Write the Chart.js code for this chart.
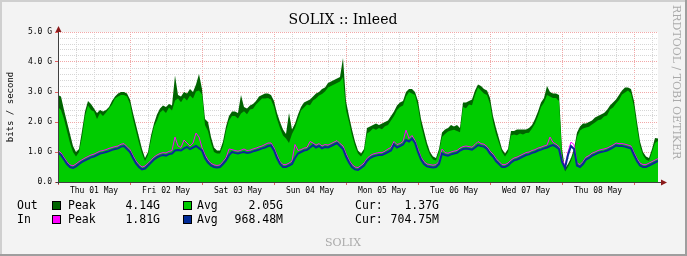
<!DOCTYPE html>
<html>
<head>
<meta charset="utf-8">
<script src="https://cdn.jsdelivr.net/npm/chart.js"></script>
<style>
  html, body { margin: 0; padding: 0; background: #f3f3f3; }
  canvas { display: block; }
</style>
</head>
<body>
<canvas id="solixChart" width="687" height="256"></canvas>
<script>
// hourly samples from Thu 01 May 00:00, values in G bit/s
const outPeak = [
  2.9, 2.85, 2.4, 2.0, 1.6, 1.2, 1.0, 1.1, 1.7, 2.35,
  2.7, 2.6, 2.45, 2.3, 2.4, 2.35, 2.4, 2.5, 2.7, 2.85,
  2.95, 3.0, 3.0, 2.95, 2.75, 2.3, 1.9, 1.5, 1.1, 0.8,
  1.0, 1.55, 1.95, 2.25, 2.45, 2.55, 2.5, 2.6, 2.55, 3.55,
  2.9, 2.85, 3.0, 2.95, 3.1, 3.0, 3.25, 3.6, 3.1, 2.1,
  2.0, 1.5, 1.15, 1.05, 1.05, 1.35, 1.85, 2.2, 2.35, 2.35,
  2.3, 2.9, 2.5, 2.45, 2.55, 2.6, 2.7, 2.85, 2.9, 2.95,
  2.95, 2.9, 2.7, 2.3, 2.0, 1.75, 1.6, 2.3, 1.75, 1.95,
  2.25, 2.5, 2.65, 2.7, 2.75, 2.85, 2.95, 3.0, 3.1, 3.15,
  3.3, 3.35, 3.4, 3.45, 3.5, 4.13, 2.7, 2.2, 1.75, 1.35,
  1.05, 0.95, 1.1, 1.8, 1.85, 1.9, 1.95, 1.9, 1.95, 2.0,
  2.05, 2.2, 2.35, 2.55, 2.65, 2.7, 3.0, 3.1, 3.1, 3.0,
  2.7, 2.1, 1.7, 1.3, 1.0, 0.85, 0.8, 1.1, 1.65, 1.75,
  1.8, 1.9, 1.85, 1.9, 1.8, 2.65, 2.65, 2.7, 2.75, 3.05,
  3.25, 3.2, 3.1, 3.05, 2.8, 2.2, 1.8, 1.45, 1.1, 0.95,
  1.1, 1.7, 1.7, 1.75, 1.75, 1.75, 1.75, 1.8, 1.9, 2.1,
  2.35, 2.65, 2.8, 3.2, 3.0, 2.95, 2.95, 2.9, 1.1, 0.45,
  0.6, 0.8, 1.1, 1.65, 1.85, 1.95, 1.95, 2.0, 2.05, 2.15,
  2.2, 2.25, 2.3, 2.4, 2.55, 2.65, 2.75, 2.9, 3.05, 3.15,
  3.15, 3.1, 2.7, 2.0, 1.35, 1.0, 0.85, 0.8, 1.1, 1.47,
  1.45
];
const outAvg = [
  2.5, 2.4, 2.1, 1.7, 1.3, 1.0, 0.85, 1.0, 1.5, 2.2,
  2.55, 2.4, 2.35, 2.1, 2.3, 2.2, 2.32, 2.45, 2.58, 2.78,
  2.85, 2.9, 2.9, 2.85, 2.6, 2.1, 1.7, 1.3, 0.95, 0.7,
  0.9, 1.4, 1.85, 2.05, 2.32, 2.4, 2.3, 2.48, 2.38, 2.72,
  2.78, 2.66, 2.82, 2.72, 2.88, 2.78, 3.02, 3.05, 2.92, 1.9,
  1.7, 1.3, 1.0, 0.95, 0.95, 1.2, 1.7, 2.05, 2.2, 2.2,
  2.12, 2.28, 2.36, 2.26, 2.42, 2.44, 2.58, 2.68, 2.78, 2.78,
  2.8, 2.75, 2.5, 2.1, 1.8, 1.55, 1.45, 1.3, 1.6, 1.8,
  2.1, 2.38, 2.48, 2.58, 2.56, 2.72, 2.78, 2.88, 2.93, 3.02,
  3.15, 3.2, 3.25, 3.3, 3.35, 3.5, 2.4, 2.0, 1.55, 1.2,
  0.95, 0.85, 1.0, 1.62, 1.68, 1.78, 1.74, 1.8, 1.76, 1.86,
  1.9, 2.05, 2.2, 2.4, 2.5, 2.55, 2.85, 3.0, 2.95, 2.9,
  2.5, 1.9, 1.5, 1.15, 0.9, 0.75, 0.72, 1.0, 1.5, 1.6,
  1.68, 1.72, 1.74, 1.7, 1.66, 2.5, 2.46, 2.58, 2.56, 2.9,
  3.15, 3.05, 2.95, 2.9, 2.6, 2.0, 1.6, 1.3, 1.0, 0.85,
  1.0, 1.55, 1.58, 1.56, 1.62, 1.58, 1.63, 1.64, 1.78, 1.95,
  2.2, 2.5, 2.65, 2.9, 2.85, 2.8, 2.8, 2.7, 0.9, 0.35,
  0.5, 0.7, 1.0, 1.5, 1.72, 1.78, 1.82, 1.84, 1.92, 1.98,
  2.06, 2.08, 2.18, 2.22, 2.42, 2.48, 2.62, 2.73, 2.92, 2.98,
  3.05, 2.95, 2.5, 1.8, 1.2, 0.9, 0.75, 0.7, 1.0, 1.3,
  1.37
];
const inPeak = [
  1.05, 0.97, 0.82, 0.67, 0.57, 0.54, 0.6, 0.68, 0.74, 0.8,
  0.85, 0.9, 0.93, 0.98, 1.03, 1.05, 1.08, 1.12, 1.15, 1.18,
  1.2, 1.26, 1.28, 1.18, 1.08, 0.88, 0.7, 0.58, 0.5, 0.53,
  0.62, 0.72, 0.83, 0.9, 0.95, 0.98, 0.97, 1.02, 1.05, 1.5,
  1.2, 1.15, 1.4, 1.3, 1.2, 1.3, 1.63, 1.5, 1.15, 0.9,
  0.73, 0.62, 0.57, 0.55, 0.57, 0.68, 0.8, 1.1, 1.08, 1.05,
  1.03, 1.06, 1.1, 1.05, 1.06, 1.1, 1.13, 1.17, 1.2, 1.25,
  1.3, 1.3, 1.14, 0.9, 0.68, 0.58, 0.58, 0.63, 0.7, 1.25,
  1.05, 1.08, 1.13, 1.15, 1.35, 1.3, 1.23, 1.28, 1.2, 1.25,
  1.23, 1.28, 1.33, 1.38, 1.28, 1.2, 0.95, 0.73, 0.58, 0.5,
  0.48, 0.55, 0.63, 0.78, 0.88, 0.93, 0.96, 0.98, 0.98, 1.03,
  1.1, 1.15, 1.35, 1.25, 1.28, 1.35, 1.73, 1.45, 1.55, 1.38,
  1.1, 0.83, 0.68, 0.6, 0.58, 0.56, 0.58, 0.68, 1.1, 0.98,
  0.96, 1.0, 1.03, 1.05, 1.13, 1.18, 1.2, 1.18, 1.16, 1.25,
  1.35, 1.28, 1.26, 1.18, 1.03, 0.93, 0.78, 0.68, 0.58, 0.58,
  0.63, 0.73, 0.8, 0.83, 0.88, 0.93, 0.98, 1.0, 1.05, 1.08,
  1.13, 1.16, 1.2, 1.23, 1.5, 1.32, 1.26, 1.18, 0.75, 0.55,
  1.0, 1.33, 1.25, 0.63, 0.58, 0.68, 0.83, 0.88, 0.96, 1.0,
  1.05, 1.08, 1.1, 1.13, 1.18, 1.23, 1.3, 1.28, 1.28, 1.26,
  1.23, 1.2, 0.98, 0.78, 0.63, 0.58, 0.58, 0.63, 0.68, 0.73,
  0.78
];
const inAvg = [
  0.97, 0.9, 0.75, 0.6, 0.5, 0.47, 0.52, 0.6, 0.67, 0.72,
  0.77, 0.82, 0.85, 0.9, 0.95, 0.97, 1.0, 1.03, 1.07, 1.1,
  1.12, 1.18, 1.2, 1.1, 1.0, 0.8, 0.62, 0.5, 0.42, 0.45,
  0.55, 0.65, 0.75, 0.82, 0.87, 0.9, 0.88, 0.93, 0.95, 1.05,
  1.07, 1.05, 1.12, 1.17, 1.1, 1.15, 1.2, 1.13, 1.05, 0.8,
  0.65, 0.55, 0.5, 0.48, 0.5, 0.6, 0.72, 0.9, 1.0, 0.97,
  0.95, 0.98, 1.0, 0.97, 0.98, 1.02, 1.05, 1.08, 1.12, 1.15,
  1.2, 1.22, 1.05, 0.8, 0.6, 0.5, 0.5, 0.55, 0.6, 0.8,
  0.95, 1.0, 1.05, 1.07, 1.15, 1.23, 1.15, 1.2, 1.12, 1.17,
  1.15, 1.2, 1.25, 1.3, 1.2, 1.1, 0.85, 0.65, 0.5, 0.42,
  0.4, 0.47, 0.55, 0.7, 0.8, 0.85, 0.88, 0.9, 0.9, 0.95,
  1.0, 1.05, 1.25, 1.15, 1.2, 1.25, 1.4, 1.35, 1.45, 1.3,
  1.0, 0.75, 0.6, 0.52, 0.5, 0.48, 0.5, 0.6, 0.95, 0.9,
  0.88, 0.92, 0.95, 0.97, 1.05, 1.1, 1.12, 1.1, 1.08, 1.15,
  1.23, 1.2, 1.18, 1.1, 0.95, 0.85, 0.7, 0.6, 0.5, 0.5,
  0.55, 0.65, 0.72, 0.75, 0.8, 0.85, 0.9, 0.92, 0.97, 1.0,
  1.05, 1.08, 1.12, 1.15, 1.2, 1.23, 1.18, 1.1, 0.67, 0.47,
  0.9, 1.2, 1.1, 0.55, 0.5, 0.6, 0.75, 0.8, 0.88, 0.92,
  0.97, 1.0, 1.02, 1.05, 1.1, 1.15, 1.22, 1.2, 1.2, 1.18,
  1.15, 1.12, 0.9, 0.7, 0.55, 0.5, 0.5, 0.55, 0.6, 0.65,
  0.7
];
const dayLabels = ['Thu 01 May', 'Fri 02 May', 'Sat 03 May', 'Sun 04 May',
                   'Mon 05 May', 'Tue 06 May', 'Wed 07 May', 'Thu 08 May'];
const outStats = ['4.14G', '2.05G', '1.37G'];
const inStats = ['1.81G', '968.48M', '704.75M'];

const hours = outAvg.map((_, i) => i);

const MONO = '"DejaVu Sans Mono", monospace';
const SERIF = '"DejaVu Serif", serif';
const MAJOR = '#f2a8a8';
const MINOR = '#d6d6d6';

const isInt = v => Math.abs(v - Math.round(v)) < 1e-6;

const rrdFrame = {
    id: 'rrdFrame',
    beforeDraw(chart) {
        const { ctx, chartArea: a, width, height } = chart;
        ctx.save();
        ctx.fillStyle = '#f3f3f3';
        ctx.fillRect(0, 0, width, height);
        ctx.fillStyle = '#cfcfcf';
        ctx.fillRect(0, 0, width, 2);
        ctx.fillRect(0, 0, 2, height);
        ctx.fillStyle = '#9e9e9e';
        ctx.fillRect(0, height - 2, width, 2);
        ctx.fillRect(width - 2, 0, 2, height);
        ctx.fillStyle = '#ffffff';
        ctx.fillRect(a.left, a.top, a.right - a.left, a.bottom - a.top);
        ctx.restore();
    },
    afterDraw(chart) {
        const { ctx, chartArea: a } = chart;
        ctx.save();

        // axes with arrows
        ctx.strokeStyle = '#404040';
        ctx.lineWidth = 1;
        ctx.beginPath();
        ctx.moveTo(a.left + 0.5, a.bottom + 2);
        ctx.lineTo(a.left + 0.5, a.top - 3);
        ctx.moveTo(a.left - 2, a.bottom + 0.5);
        ctx.lineTo(a.right + 4, a.bottom + 0.5);
        ctx.stroke();
        ctx.fillStyle = '#8b1a1a';
        ctx.beginPath();
        ctx.moveTo(a.left - 2.5, a.top);
        ctx.lineTo(a.left + 3.5, a.top);
        ctx.lineTo(a.left + 0.5, a.top - 6);
        ctx.closePath();
        ctx.fill();
        ctx.beginPath();
        ctx.moveTo(a.right + 3, a.bottom - 2.5);
        ctx.lineTo(a.right + 3, a.bottom + 3.5);
        ctx.lineTo(a.right + 9, a.bottom + 0.5);
        ctx.closePath();
        ctx.fill();

        // title
        ctx.fillStyle = '#000';
        ctx.font = '14px ' + SERIF;
        ctx.textAlign = 'center';
        ctx.textBaseline = 'middle';
        ctx.fillText('SOLIX :: Inleed', 343, 20);

        // watermark
        ctx.fillStyle = '#aaaaaa';
        ctx.font = '11px ' + SERIF;
        ctx.fillText('SOLIX', 343, 243);

        // vertical credit
        ctx.save();
        ctx.translate(676, 5);
        ctx.rotate(Math.PI / 2);
        ctx.textAlign = 'left';
        ctx.font = '11px ' + SERIF;
        ctx.fillText('RRDTOOL / TOBI OETIKER', 0, 0);
        ctx.restore();

        // legend
        const rows = [
            { name: 'Out', peakColor: '#006400', avgColor: '#00cc00', stats: outStats, y: 206 },
            { name: 'In', peakColor: '#ff00ff', avgColor: '#002a97', stats: inStats, y: 220 }
        ];
        ctx.font = '11.5px ' + MONO;
        ctx.textBaseline = 'middle';
        rows.forEach(r => {
            ctx.fillStyle = '#000';
            ctx.textAlign = 'left';
            ctx.fillText(r.name, 17, r.y);
            [[52, r.peakColor], [183, r.avgColor]].forEach(([bx, c]) => {
                ctx.fillStyle = c;
                ctx.fillRect(bx, r.y - 5, 9, 9);
                ctx.strokeStyle = '#000';
                ctx.strokeRect(bx + 0.5, r.y - 4.5, 8, 8);
            });
            ctx.fillStyle = '#000';
            ctx.fillText('Peak', 68, r.y);
            ctx.fillText('Avg', 197, r.y);
            ctx.fillText('Cur:', 355, r.y);
            ctx.textAlign = 'right';
            ctx.fillText(r.stats[0], 160, r.y);
            ctx.fillText(r.stats[1], 283, r.y);
            ctx.fillText(r.stats[2], 439, r.y);
        });
        ctx.restore();
    }
};

const ctx = document.getElementById('solixChart').getContext('2d');
new Chart(ctx, {
    type: 'line',
    data: {
        labels: hours,
        datasets: [
            { label: 'Out Peak', data: outPeak, order: 4, fill: 'origin',
              backgroundColor: '#006400', borderColor: 'rgba(0,0,0,0)', borderWidth: 0, pointRadius: 0 },
            { label: 'Out Avg', data: outAvg, order: 3, fill: 'origin',
              backgroundColor: '#00cc00', borderColor: 'rgba(0,0,0,0)', borderWidth: 0, pointRadius: 0 },
            { label: 'In Peak', data: inPeak, order: 2, fill: false,
              borderColor: '#ff00ff', borderWidth: 1, pointRadius: 0 },
            { label: 'In Avg', data: inAvg, order: 1, fill: false,
              borderColor: '#0a2a97', borderWidth: 2, pointRadius: 0 }
        ]
    },
    options: {
        responsive: false,
        animation: false,
        devicePixelRatio: 1,
        layout: { padding: { left: 0, top: 32, right: 29, bottom: 52 } },
        plugins: { legend: { display: false }, tooltip: { enabled: false } },
        elements: { line: { tension: 0 } },
        scales: {
            x: {
                type: 'linear',
                min: 0,
                max: 200,
                afterFit: s => { s.height = 22; },
                border: { display: false, dash: [1, 1] },
                grid: {
                    color: c => (c.tick && c.tick.value % 24 === 0) ? MAJOR : MINOR,
                    tickColor: c => (c.tick && c.tick.value % 24 === 0) ? '#e06060' : 'rgba(0,0,0,0)',
                    tickLength: 3
                },
                ticks: {
                    stepSize: 6,
                    autoSkip: false,
                    maxRotation: 0,
                    includeBounds: false,
                    padding: 1,
                    color: '#000',
                    font: { family: MONO, size: 8 },
                    callback: v => (v % 24 === 12) ? (dayLabels[(v - 12) / 24] || '') : ''
                }
            },
            y: {
                min: 0,
                max: 5,
                afterFit: s => { s.width = 58; },
                border: { display: false, dash: [1, 1] },
                grid: {
                    color: c => (c.tick && isInt(c.tick.value)) ? MAJOR : MINOR,
                    tickColor: c => (c.tick && isInt(c.tick.value)) ? '#e06060' : 'rgba(0,0,0,0)',
                    tickLength: 3
                },
                ticks: {
                    stepSize: 0.2,
                    autoSkip: false,
                    padding: 3,
                    color: '#000',
                    font: { family: MONO, size: 8 },
                    callback: v => isInt(v) ? (Math.round(v) === 0 ? '0.0' : Math.round(v).toFixed(1) + ' G') : ''
                },
                title: {
                    display: true,
                    text: 'bits / second',
                    color: '#000',
                    font: { family: MONO, size: 9 },
                    padding: { top: 5, bottom: 0 }
                }
            }
        }
    },
    plugins: [rrdFrame]
});
</script>
</body>
</html>
